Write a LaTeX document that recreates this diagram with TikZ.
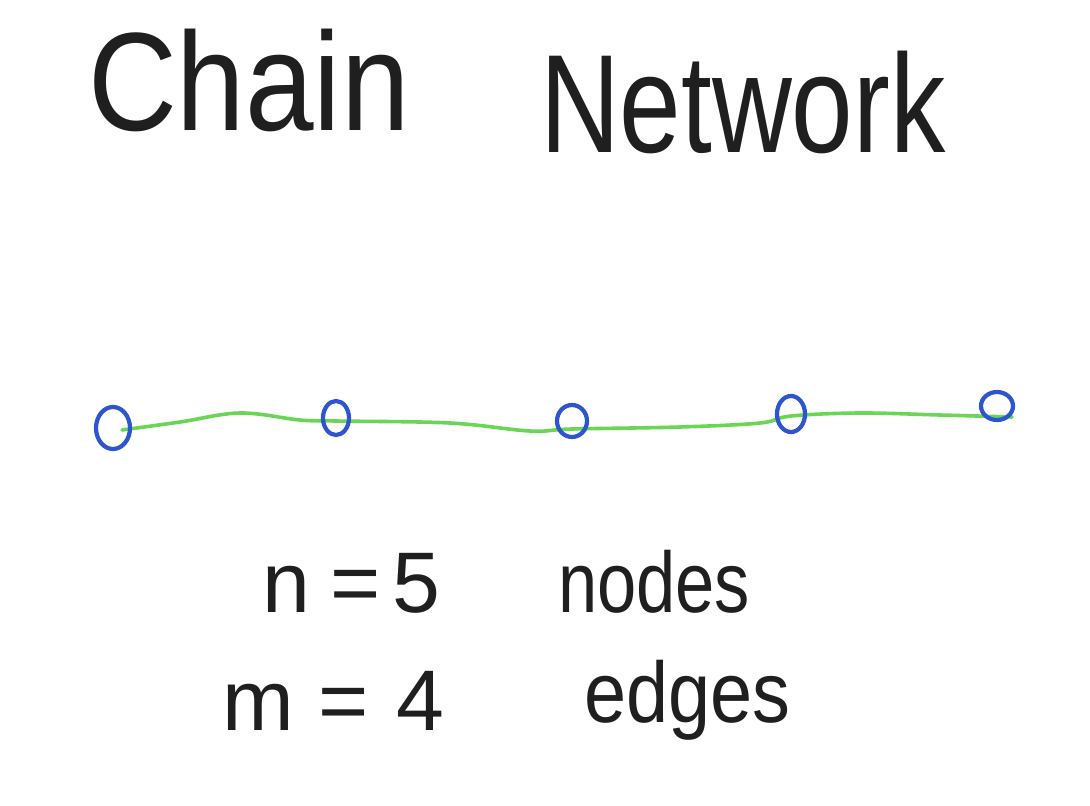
\documentclass[tikz,border=0pt]{standalone}
\usepackage{fontspec}
\setmainfont{Liberation Sans}
\definecolor{vblue}{RGB}{45,85,205}
\definecolor{egreen}{RGB}{105,215,85}
\begin{document}
\begin{tikzpicture}[x=1pt,y=-1pt,
  hand/.style={inner sep=0pt,outer sep=0pt,text=black!88,anchor=base west},
  big/.style={font=\fontsize{86}{86}\selectfont},
  vert/.style={draw=vblue,line width=4.2pt},
  edgeline/.style={draw=egreen,line width=3.6pt,line cap=round}]
\useasboundingbox[fill=white] (0,0) rectangle (1090,806);
% title
\node[hand,xscale=0.88] (chain) at (88,130) {\fontsize{140}{140}\selectfont Chain};
\node[hand,xscale=0.79] (network) at (540,152) {\fontsize{140}{140}\selectfont Network};
% edges
\draw[edgeline] plot[smooth,tension=0.6] coordinates {(122,430) (180,422) (240,413) (300,420) (336,421) (450,423) (530,431) (572,429) (680,427) (760,423) (791,416) (860,413) (940,415) (1012,417)};
% nodes
\foreach \n/\x/\y/\rx/\ry in {1/113/428/17/21, 2/336/418/13/17, 3/572/421/15/16, 4/791/414/14/18, 5/997/406/16/14}{
  \draw[vert] (\x,\y) ellipse [x radius=\rx, y radius=\ry];
  \node[inner sep=0pt] (v\n) at (\x,\y) {};
}
% labels
\node[hand,big] (n) at (262,612) {n};
\node[hand,big] (eq1) at (330,612) {=};
\node[hand,big] (five) at (392,612) {5};
\node[hand,big,xscale=0.82] (nodes) at (558,612) {nodes};
\node[hand,big] (m) at (222,730) {m};
\node[hand,big] (eq2) at (318,730) {=};
\node[hand,big] (four) at (396,730) {4};
\node[hand,big,xscale=0.88] (edges) at (584,722) {edges};
\end{tikzpicture}
\end{document}
